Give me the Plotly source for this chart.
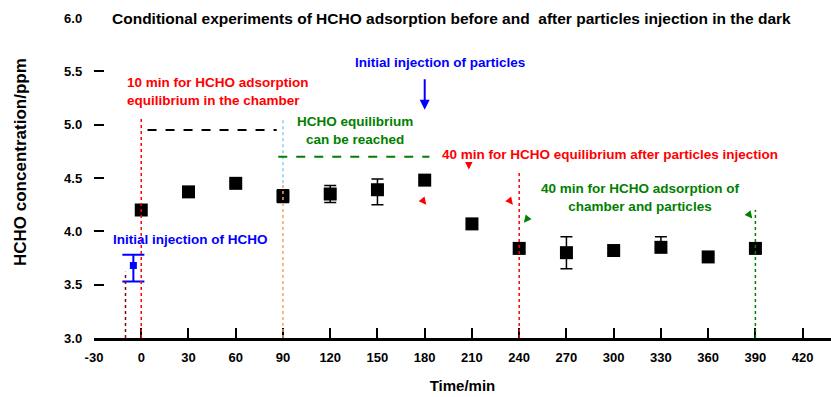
import plotly.graph_objects as go

# ---- data ----
time_min = [0, 30, 60, 90, 120, 150, 180, 210, 240, 270, 300, 330, 360, 390]
hcho_ppm = [4.20, 4.37, 4.45, 4.33, 4.35, 4.39, 4.48, 4.07, 3.84, 3.80, 3.82, 3.85, 3.76, 3.84]
err_plus = [0.02, 0.02, 0.02, 0.06, 0.08, 0.10, 0.02, 0.02, 0.04, 0.15, 0.02, 0.10, 0.02, 0.04]
err_minus = [0.02, 0.02, 0.02, 0.06, 0.08, 0.14, 0.02, 0.02, 0.04, 0.15, 0.02, 0.02, 0.02, 0.04]

init_time = [-5]
init_ppm = [3.68]
init_err_plus = [0.10]
init_err_minus = [0.15]

x_ticks = [-30, 0, 30, 60, 90, 120, 150, 180, 210, 240, 270, 300, 330, 360, 390, 420]
y_ticks = [3.0, 3.5, 4.0, 4.5, 5.0, 5.5, 6.0]

FONT = "Liberation Sans, Arial, sans-serif"

# plot area geometry in page pixels (used only to place paper-referenced text)
L, R, T, B = 94, 0, 18, 59
W, H = 831, 397
PW, PH = W - L - R, H - T - B


def px_to_paper(px, py):
    return (px - L) / PW, (H - B - py) / PH


fig = go.Figure()

fig.add_trace(go.Scatter(
    x=time_min, y=hcho_ppm, mode="markers",
    marker=dict(symbol="square", size=13, color="black"),
    error_y=dict(type="data", symmetric=False, array=err_plus, arrayminus=err_minus,
                 color="black", thickness=1.5, width=6),
    showlegend=False,
))
fig.add_trace(go.Scatter(
    x=init_time, y=init_ppm, mode="markers",
    marker=dict(symbol="square", size=7, color="blue"),
    error_y=dict(type="data", symmetric=False, array=init_err_plus, arrayminus=init_err_minus,
                 color="blue", thickness=2, width=11),
    showlegend=False,
))


def vline(x, y0, y1, color):
    fig.add_shape(type="line", xref="x", yref="y", x0=x, x1=x, y0=y0, y1=y1,
                  line=dict(color=color, width=1.5, dash="dot"))


vline(-10, 3.0, 3.62, "#8b0000")
vline(0, 3.0, 5.07, "red")
vline(90, 4.45, 5.06, "#87cefa")
vline(90, 3.0, 4.45, "#f4a460")
vline(240, 3.0, 4.56, "red")
vline(390, 3.0, 4.20, "green")

fig.add_shape(type="line", xref="x", yref="y", x0=4, x1=86, y0=4.95, y1=4.95,
              line=dict(color="black", width=1.8, dash="dash"))
fig.add_shape(type="line", xref="x", yref="y", x0=87, x1=183, y0=4.70, y1=4.70,
              line=dict(color="green", width=2, dash="dash"))


def note(text, x, y, color, xanchor="center", size=13.5):
    fig.add_annotation(x=x, y=y, xref="x", yref="y", text=text, showarrow=False,
                       xanchor=xanchor, yanchor="middle",
                       align=xanchor if xanchor != "center" else "center",
                       font=dict(family=FONT, size=size, color=color))


note("<b>10 min for HCHO adsorption<br>equilibrium in the chamber</b>", -10.5, 5.31, "red", "left")
note("<b>Initial injection of particles</b>", 190, 5.58, "blue")
note("<b>HCHO equilibrium<br>can be reached</b>", 136, 4.95, "green")
note("<b>40 min for HCHO equilibrium after particles injection</b>", 189.5, 4.72, "red", "left")
note("<b>40 min for HCHO adsorption of<br>chamber and particles</b>", 317, 4.32, "green")
note("<b>Initial injection of HCHO</b>", 31, 3.92, "blue")

fig.add_annotation(x=180, y=5.14, xref="x", yref="y", text="", showarrow=True,
                   ax=0, ay=-32, arrowhead=2, arrowsize=1, arrowwidth=2, arrowcolor="blue")
for (xx, yy, dx, dy, c) in [(181, 4.25, -4, -5, "red"), (208, 4.58, 0, -6, "red"),
                            (236, 4.25, -4, -5, "red"), (243, 4.08, 4, -5, "green"),
                            (388, 4.12, -4, -5, "green")]:
    fig.add_annotation(x=xx, y=yy, xref="x", yref="y", text="", showarrow=True,
                       ax=dx, ay=dy, arrowhead=2, arrowsize=1, arrowwidth=1.5, arrowcolor=c)

# y-axis title as rotated text
yx, yy = px_to_paper(20, 162)
fig.add_annotation(x=yx, y=yy, xref="paper", yref="paper",
                   text="<b>HCHO concentration/ppm</b>", textangle=-90, showarrow=False,
                   xanchor="center", yanchor="middle",
                   font=dict(family=FONT, size=17, color="black"))

fig.update_layout(
    width=W, height=H,
    margin=dict(l=L, r=R, t=T, b=B),
    plot_bgcolor="white", paper_bgcolor="white",
    font=dict(family=FONT, size=11, color="black"),
    title=dict(text="<b>Conditional experiments of HCHO adsorption before and  after particles injection in the dark</b>",
               x=112 / W, xanchor="left", y=1 - 19 / H, yanchor="middle",
               font=dict(family=FONT, size=15.5, color="black")),
)

fig.update_xaxes(
    range=[-30, 438], tickvals=x_ticks, ticktext=[f"<b>{v}</b>" for v in x_ticks],
    ticks="inside", ticklen=10, tickwidth=2, tickcolor="black",
    showline=True, linecolor="black", linewidth=3, showgrid=False, zeroline=False,
    tickfont=dict(family=FONT, size=13, color="black"), ticklabelstandoff=5,
    title=dict(text="<b>Time/min</b>", font=dict(family=FONT, size=15, color="black"), standoff=17),
)
fig.update_yaxes(
    range=[3.0, 6.0], tickvals=y_ticks,
    ticktext=[f"<b>{v:.1f}</b>" + "\u00a0" * 3 for v in y_ticks],
    ticks="inside", ticklen=10, tickwidth=2, tickcolor="black",
    showline=False, showgrid=False, zeroline=False,
    tickfont=dict(family=FONT, size=13, color="black"),
)

fig.write_html("out.html")
